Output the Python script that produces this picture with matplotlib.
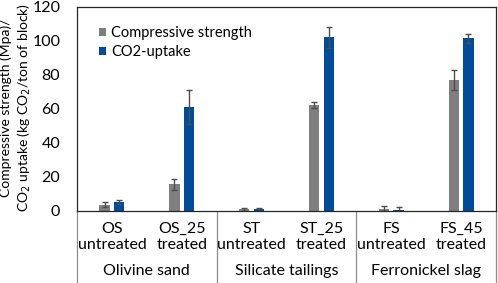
import numpy as np
import matplotlib
matplotlib.use("Agg")
import matplotlib.pyplot as plt
import matplotlib.transforms as mtransforms

plt.rcParams['font.family'] = ['Lato', 'DejaVu Sans']

# data
categories = ["OS\nuntreated", "OS_25\ntreated", "ST\nuntreated",
              "ST_25\ntreated", "FS\nuntreated", "FS_45\ntreated"]
groups = ["Olivine sand", "Silicate tailings", "Ferronickel slag"]
strength = [3.8, 15.6, 1.0, 62.3, 1.4, 77.0]
strength_err = [1.5, 3.4, 1.0, 2.0, 1.5, 6.0]
uptake = [5.2, 61.3, 0.9, 102.2, 0.8, 101.6]
uptake_err = [1.1, 10.0, 0.8, 6.3, 1.4, 2.5]

gray = "#7f7f7f"
blue = "#004c99"
errc = "#4d4d4d"

fig = plt.figure(figsize=(4.98, 2.83), dpi=100)
ax = fig.add_axes([77 / 498, 72 / 283, 419 / 498, 204 / 283])

x = np.arange(len(categories))
w = 0.15
off = 0.105
ax.bar(x - off, strength, w, color=gray, label="Compressive strength",
       yerr=strength_err, error_kw=dict(ecolor=errc, capsize=2.5, elinewidth=1, capthick=1))
ax.bar(x + off, uptake, w, color=blue, label="CO2-uptake",
       yerr=uptake_err, error_kw=dict(ecolor=errc, capsize=2.5, elinewidth=1, capthick=1))

ax.set_xlim(-0.5, len(categories) - 0.5)
ax.set_ylim(0, 120)
ax.set_yticks(range(0, 121, 20))
ax.tick_params(axis='y', length=0, pad=12, labelsize=11.5)
ax.set_xticks(x)
ax.set_xticklabels(categories, fontsize=11.5, linespacing=1.15)
ax.tick_params(axis='x', length=0, pad=8)

for s in ["left", "top", "right", "bottom"]:
    ax.spines[s].set_color("#262626")
    ax.spines[s].set_linewidth(0.9)

# group separators and labels below the axis
trans = mtransforms.blended_transform_factory(ax.transData, ax.transAxes)
for xs in [-0.5, 1.5, 3.5, 5.5]:
    ax.plot([xs, xs], [0, -0.36], color="#8c8c8c", lw=0.9,
            transform=trans, clip_on=False)
for i, g in enumerate(groups):
    ax.text(2 * i + 0.5, -0.295, g, transform=trans, ha="center", va="center",
            fontsize=11.5)

leg = ax.legend(loc="upper left", bbox_to_anchor=(0.02, 0.97), frameon=False,
                fontsize=10.5, handlelength=0.5, handleheight=0.5,
                handletextpad=0.35, labelspacing=0.35)

fig.text(0.033, 1 - 108 / 283,
         "Compressive strength (Mpa)/\nCO$_2$ uptake (kg CO$_2$/ton of block)",
         rotation=90, ha="center", va="center", multialignment="center",
         fontsize=10, linespacing=1.25)

fig.savefig("out.png", dpi=100)
